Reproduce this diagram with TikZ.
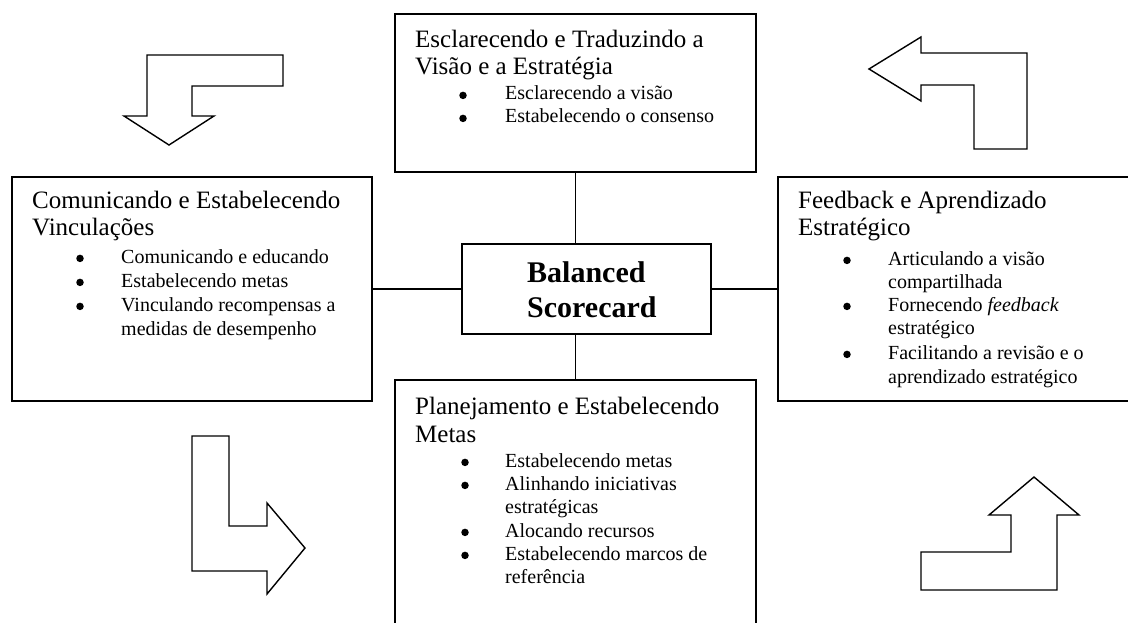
\documentclass[tikz,border=0pt]{standalone}
\usepackage{fontspec}
\setmainfont{Liberation Serif}
\usetikzlibrary{fit}
\begin{document}
\begin{tikzpicture}[x=1pt,y=-1pt,
  box/.style={draw, line width=1.4pt, inner sep=0pt},
  link/.style={draw, line width=1.4pt},
  turnarrow/.style={draw, line width=1.4pt, line join=miter, fill=white},
  head/.style={anchor=base west, inner sep=0pt, font=\fontsize{25}{29}\selectfont},
  entry/.style={anchor=base west, inner sep=0pt, font=\fontsize{20}{23}\selectfont},
  dot/.style={circle, fill, inner sep=0pt, minimum size=7.5pt, yshift=4.6pt},
  core/.style={anchor=base west, inner sep=0pt, font=\fontsize{30}{35}\selectfont\bfseries}]
\useasboundingbox (0,0) rectangle (1128,623);
\clip (0,0) rectangle (1128,623);

% frames
\node[box, fit={(395,14) (756,172)}] (vis) {};
\node[box, fit={(12,177) (372,401)}] (com) {};
\node[box, fit={(778,177) (1140,401)}] (fbk) {};
\node[box, fit={(395,380) (756,640)}] (pla) {};
\node[box, fit={(462,244) (711,334)}] (bsc) {};

% connectors
\draw[link] (vis.south) -- (vis.south |- bsc.north);
\draw[link] (bsc.south -| pla.south) -- (pla.north);
\draw[link] (com.east) -- (bsc.west);
\draw[link] (bsc.east) -- (fbk.west);
\coordinate (nickA) at (417,289);
\coordinate (nickB) at (440,289);
\draw[line width=2.2pt] (nickA) -- (nickB);

% centre
\node[core] (bsc1) at (527,282) {Balanced};
\node[core] (bsc2) at (527,317) {Scorecard};

% top (bullets sit on the baseline given, raised by half an x-height)
\node[head] (vis1) at (415,48) {Esclarecendo e Traduzindo a};
\node[head] (vis2) at (415,75) {Visão e a Estratégia};
\node[dot] (visd1) at (463,100) {};
\node[entry] (visi1) at (505,100) {Esclarecendo a visão};
\node[dot] (visd2) at (463,123) {};
\node[entry] (visi2) at (505,123) {Estabelecendo o consenso};

% left
\node[head] (com1) at (32,208) {Comunicando e Estabelecendo};
\node[head] (com2) at (32,235) {Vinculações};
\node[dot] (comd1) at (80,263) {};
\node[entry] (comi1) at (121,263) {Comunicando e educando};
\node[dot] (comd2) at (80,287) {};
\node[entry] (comi2) at (121,287) {Estabelecendo metas};
\node[dot] (comd3) at (80,311) {};
\node[entry] (comi3) at (121,311) {Vinculando recompensas a};
\node[entry] (comi4) at (121,335) {medidas de desempenho};

% right
\node[head] (fbk1) at (798,208) {Feedback e Aprendizado};
\node[head] (fbk2) at (798,236) {Estratégico};
\node[dot] (fbkd1) at (847,265) {};
\node[entry] (fbki1) at (888,265) {Articulando a visão};
\node[entry] (fbki2) at (888,288) {compartilhada};
\node[dot] (fbkd2) at (847,311) {};
\node[entry] (fbki3) at (888,311) {Fornecendo \textit{feedback}};
\node[entry] (fbki4) at (888,334) {estratégico};
\node[dot] (fbkd3) at (847,359) {};
\node[entry] (fbki5) at (888,359) {Facilitando a revisão e o};
\node[entry] (fbki6) at (888,383) {aprendizado estratégico};

% bottom
\node[head] (pla1) at (415,414) {Planejamento e Estabelecendo};
\node[head] (pla2) at (415,442) {Metas};
\node[dot] (plad1) at (465,467) {};
\node[entry] (plai1) at (505,467) {Estabelecendo metas};
\node[dot] (plad2) at (465,490) {};
\node[entry] (plai2) at (505,490) {Alinhando iniciativas};
\node[entry] (plai3) at (505,513) {estratégicas};
\node[dot] (plad3) at (465,537) {};
\node[entry] (plai4) at (505,537) {Alocando recursos};
\node[dot] (plad4) at (465,560) {};
\node[entry] (plai5) at (505,560) {Estabelecendo marcos de};
\node[entry] (plai6) at (505,583) {referência};

% cycle arrows
\draw[turnarrow] (147,55) -- (283,55) -- (283,86) -- (192,86) -- (192,116) -- (214,116)
  -- (169,145) -- (124,116) -- (147,116) -- cycle;
\draw[turnarrow] (869,69) -- (921,37) -- (921,53) -- (1027,53) -- (1027,149) -- (974,149)
  -- (974,85) -- (921,85) -- (921,101) -- cycle;
\draw[turnarrow] (192,436) -- (229,436) -- (229,526) -- (267,526) -- (267,503) -- (305,548)
  -- (267,594) -- (267,571) -- (192,571) -- cycle;
\draw[turnarrow] (1034,477) -- (1079,515) -- (1057,515) -- (1057,590) -- (921,590) -- (921,552)
  -- (1011,552) -- (1011,515) -- (989,515) -- cycle;
\end{tikzpicture}
\end{document}
